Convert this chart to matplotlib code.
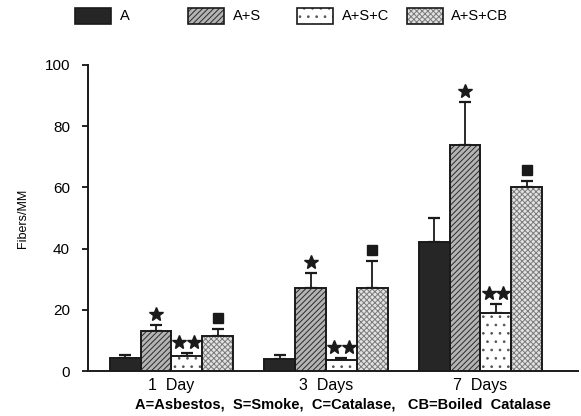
import numpy as np
import matplotlib.pyplot as plt
from matplotlib.patches import Rectangle

plt.rcParams['font.family'] = ['Liberation Sans', 'DejaVu Sans']
plt.rcParams['hatch.linewidth'] = 0.7

# Fibers/MM per group and treatment
days = ['1  Day', '3  Days', '7  Days']
series = ['A', 'A+S', 'A+S+C', 'A+S+CB']
a_vals = [4.3, 4.0, 42.0]
a_err = [1.0, 1.2, 8.0]
as_vals = [13.0, 27.0, 74.0]
as_err = [2.2, 5.0, 14.0]
asc_vals = [5.0, 3.6, 19.0]
asc_err = [1.0, 0.8, 3.0]
ascb_vals = [11.3, 27.0, 60.0]
ascb_err = [2.3, 9.0, 2.0]

# significance marks: star above A+S, two stars above A+S+C, square above A+S+CB
sig_marks = {'A+S': 'star', 'A+S+C': 'double', 'A+S+CB': 'square'}

values = [a_vals, as_vals, asc_vals, ascb_vals]
errors = [a_err, as_err, asc_err, ascb_err]
# face colour, hatch pattern, hatch colour
styles = [
    ('#262626', None, '#262626'),
    ('#b4b4b4', '//////', '#2a2a2a'),
    ('white', '..', '#555555'),
    ('#e2e2e2', 'xxxxxx', '#7a7a7a'),
]
edge = '#1a1a1a'

fig = plt.figure(figsize=(5.81, 4.16), dpi=100)
ax = fig.add_axes([0.1515, 0.108, 0.843, 0.736])

x = np.arange(len(days))
width = 0.2
for i, name in enumerate(series):
    pos = x + (i - 1.5) * width
    face, hatch, hcol = styles[i]
    # fill with hatch texture, then the black outline on top
    ax.bar(pos, values[i], width, color=face, edgecolor=hcol, linewidth=0,
           hatch=hatch, zorder=3)
    ax.bar(pos, values[i], width, fill=False, edgecolor=edge, linewidth=1.4, zorder=3.5)
    ax.errorbar(pos, values[i], yerr=[np.zeros(3), errors[i]], fmt='none',
                ecolor=edge, elinewidth=1.3, capsize=4, capthick=1.6, zorder=2)
    tops = np.array(values[i]) + np.array(errors[i]) + 3.6
    kind = sig_marks.get(name)
    if kind == 'star':
        ax.plot(pos, tops, marker='*', ls='none', ms=10, color=edge, zorder=4)
    elif kind == 'double':
        for dx in (-0.048, 0.048):
            ax.plot(pos + dx, tops, marker='*', ls='none', ms=10, color=edge, zorder=4)
    elif kind == 'square':
        ax.plot(pos, tops, marker='s', ls='none', ms=7, color=edge, zorder=4)

ax.set_xlim(-0.54, 2.63)
ax.set_ylim(0, 100)
ax.set_yticks(np.arange(0, 101, 20))
ax.set_xticks(x)
ax.set_xticklabels(days, fontsize=11.5)
ax.tick_params(axis='x', length=0, pad=5)
ax.tick_params(axis='y', direction='out', length=4, width=1.2, labelsize=11, pad=9)
for s in ('top', 'right'):
    ax.spines[s].set_visible(False)
for s in ('left', 'bottom'):
    ax.spines[s].set_linewidth(1.4)
    ax.spines[s].set_color(edge)
ax.set_ylabel('Fibers/MM', fontsize=9, labelpad=11)

fig.text(0.591, 0.01, 'A=Asbestos,  S=Smoke,  C=Catalase,   CB=Boiled  Catalase',
         ha='center', va='bottom', fontsize=10.5, fontweight='bold')

# legend row across the top
leg_x = [0.129, 0.324, 0.511, 0.700]
for i, name in enumerate(series):
    face, hatch, hcol = styles[i]
    fig.patches.append(Rectangle((leg_x[i], 0.942), 0.062, 0.038,
                                 transform=fig.transFigure, facecolor=face,
                                 edgecolor=hcol, linewidth=0, hatch=hatch))
    fig.patches.append(Rectangle((leg_x[i], 0.942), 0.062, 0.038,
                                 transform=fig.transFigure, fill=False,
                                 edgecolor=edge, linewidth=1.2))
    fig.text(leg_x[i] + 0.077, 0.961, name, ha='left', va='center', fontsize=10.5)

fig.savefig('out.png', dpi=100)
